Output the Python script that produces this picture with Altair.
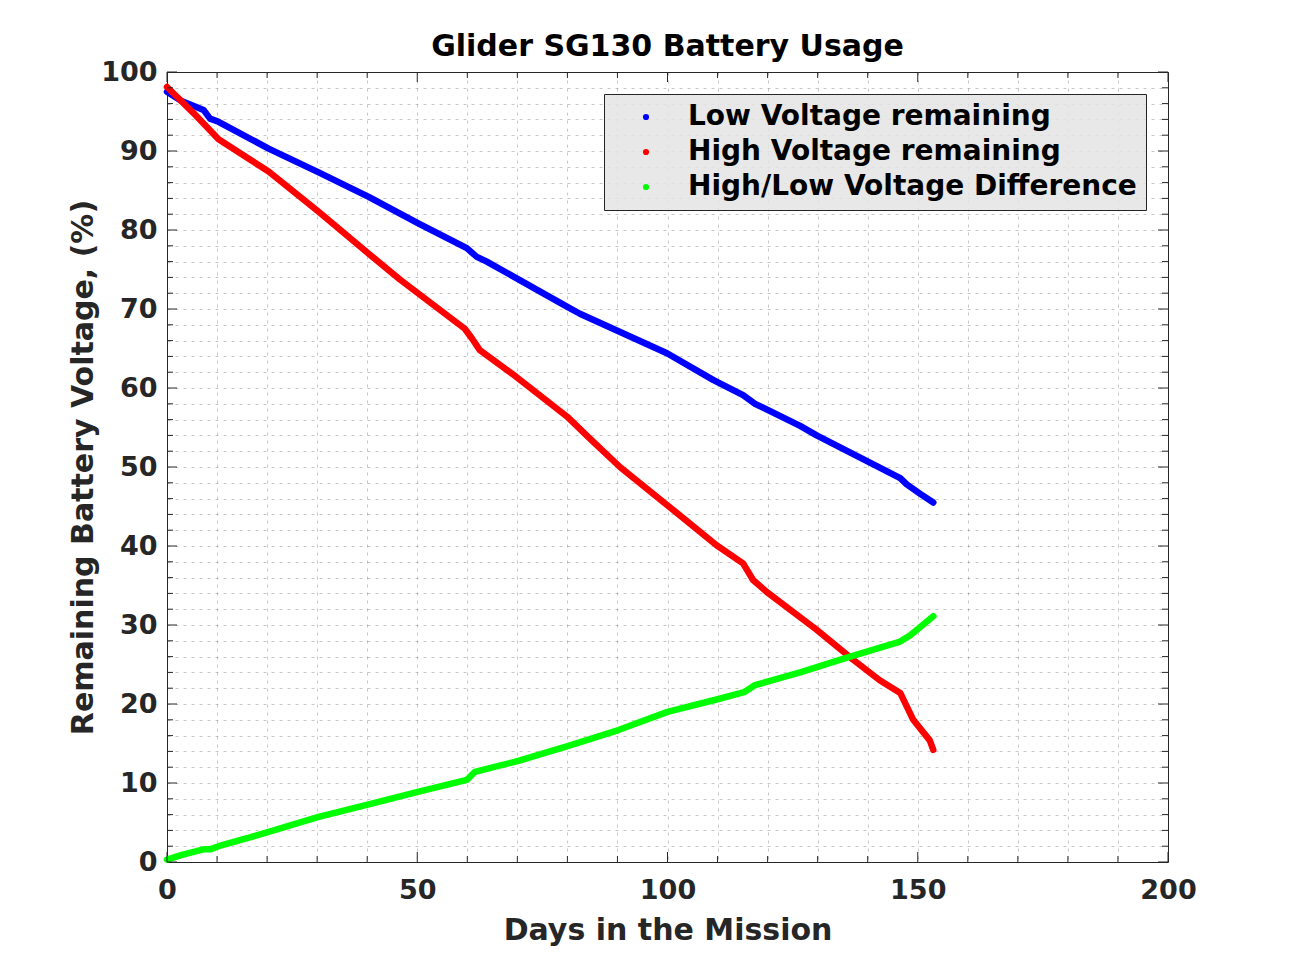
import altair as alt
import pandas as pd

# ---------------- data ----------------
series_names = ["Low Voltage remaining", "High Voltage remaining", "High/Low Voltage Difference"]
series_colors = ["#0000ff", "#ff0000", "#00ff00"]

low_days = [0, 3, 7.3, 8.6, 10.3, 20.3, 30.3, 40.3, 50.3, 59.9, 61.9, 63.9, 79.9, 82.5,
            99.9, 109.2, 115.1, 117.5, 126.5, 129.8, 146.5, 147.8, 150.5, 153.1]
low_vals = [97.5, 96.3, 95.2, 94.1, 93.7, 90.3, 87.3, 84.2, 80.8, 77.7, 76.6, 76.0, 70.3, 69.4,
            64.4, 61.0, 59.1, 58.0, 55.2, 54.0, 48.6, 47.8, 46.6, 45.5]

high_days = [0, 5.3, 10.3, 20.3, 30.3, 40.3, 46.6, 59.5, 60.9, 62.5, 69.8, 79.9, 84.5, 90.5,
             99.9, 109.8, 115.1, 117.1, 119.8, 129.8, 137.1, 142.4, 146.5, 147.8, 149.1, 152.4, 153.1]
high_vals = [98.1, 94.8, 91.5, 87.4, 82.3, 77.0, 73.7, 67.5, 66.3, 64.8, 61.4, 56.4, 53.6, 50.0,
             45.2, 40.1, 37.8, 35.7, 34.2, 29.4, 25.6, 23.0, 21.4, 19.7, 18.0, 15.4, 14.2]

diff_days = [0, 3, 7.3, 8.6, 10.3, 20.3, 30.3, 40.3, 50.3, 59.9, 61.5, 70.2, 80.2, 90.2,
             100, 110, 115.3, 117.5, 126.5, 136.5, 146.5, 148.5, 151, 153.1]
diff_vals = [0.3, 0.9, 1.6, 1.6, 2.0, 3.8, 5.7, 7.3, 8.9, 10.4, 11.4, 12.8, 14.7, 16.7,
             19.0, 20.6, 21.5, 22.4, 24.0, 26.0, 27.9, 28.7, 30.0, 31.1]

x_major = [0, 50, 100, 150, 200]
x_minor = [10, 20, 30, 40, 60, 70, 80, 90, 110, 120, 130, 140, 160, 170, 180, 190]
y_major = [0, 10, 20, 30, 40, 50, 60, 70, 80, 90, 100]
y_minor = [2, 4, 6, 8, 12, 14, 16, 18, 22, 24, 26, 28, 32, 34, 36, 38, 42, 44, 46, 48,
           52, 54, 56, 58, 62, 64, 66, 68, 72, 74, 76, 78, 82, 84, 86, 88, 92, 94, 96, 98]

# ---------------- build tables ----------------
rows = []
for name, days, vals in zip(series_names, [low_days, high_days, diff_days], [low_vals, high_vals, diff_vals]):
    for i, (d, v) in enumerate(zip(days, vals)):
        rows.append({"series": name, "day": d, "value": v, "order": i})
df = pd.DataFrame(rows)

xmaj = pd.DataFrame({"t": x_major})
xmin = pd.DataFrame({"t": x_minor})
ymaj = pd.DataFrame({"t": y_major})
ymin = pd.DataFrame({"t": y_minor})

W, H = 1001, 790
FONT = "DejaVu Sans"
AX = "#262626"

x_scale = alt.Scale(domain=[0, 200], nice=False, zero=False)
y_scale = alt.Scale(domain=[0, 100], nice=False, zero=False)

x_all = sorted(x_major + x_minor)
y_all = sorted(y_major + y_minor)

x_axis = alt.Axis(values=x_all, title="Days in the Mission",
                  labelExpr="datum.value % 50 === 0 ? datum.label : ''",
                  ticks=False, domain=False, grid=True, labelOverlap=False,
                  labelFlush=False, labelPadding=15, titlePadding=12)
y_axis = alt.Axis(values=y_all, title="Remaining Battery Voltage, (%)",
                  labelExpr="datum.value % 10 === 0 ? datum.label : ''",
                  ticks=False, domain=False, grid=True, labelOverlap=False,
                  labelFlush=False, labelPadding=10, titlePadding=2)

lines = alt.Chart(df).mark_line(strokeWidth=6.5, strokeCap="round", strokeJoin="round").encode(
    x=alt.X("day:Q", scale=x_scale, axis=x_axis),
    y=alt.Y("value:Q", scale=y_scale, axis=y_axis),
    color=alt.Color("series:N", scale=alt.Scale(domain=series_names, range=series_colors),
                    sort=series_names,
                    legend=alt.Legend(orient="none", legendX=437, legendY=22, title=None,
                                      labelFontSize=28, labelFont=FONT, labelFontWeight="bold",
                                      labelColor="black", labelLimit=900,
                                      symbolType="circle", symbolSize=10, symbolStrokeWidth=3,
                                      padding=9, symbolOffset=19, labelOffset=28, rowPadding=7,
                                      fillColor="rgba(228,228,228,0.85)", strokeColor=AX)),
    order="order:Q",
)

def hrule(data, y0, y1):
    return alt.Chart(data).mark_rule(color=AX, strokeWidth=1).encode(
        x=alt.X("t:Q", scale=x_scale, axis=x_axis), y=alt.value(y0), y2=alt.value(y1))

def vrule(data, x0, x1):
    return alt.Chart(data).mark_rule(color=AX, strokeWidth=1).encode(
        y=alt.Y("t:Q", scale=y_scale, axis=y_axis), x=alt.value(x0), x2=alt.value(x1))

ticks = [
    hrule(xmaj, H, H - 10), hrule(xmin, H, H - 6),
    hrule(xmaj, 0, 10), hrule(xmin, 0, 6),
    vrule(ymaj, 0, 10), vrule(ymin, 0, 6),
    vrule(ymaj, W, W - 10), vrule(ymin, W, W - 6),
]

chart = alt.layer(lines, *ticks).properties(
    width=W, height=H,
    autosize=alt.AutoSizeParams(type="none"),
    padding={"left": 159, "top": 64, "right": 110, "bottom": 88},
    title=alt.Title("Glider SG130 Battery Usage", fontSize=30, font=FONT, fontWeight="bold",
                    color="black", anchor="middle", frame="group", offset=10, dy=38,
                    baseline="alphabetic"),
).configure_view(
    stroke=AX, strokeWidth=1
).configure_axis(
    labelFont=FONT, labelFontSize=27, labelFontWeight="bold", labelColor=AX,
    titleFont=FONT, titleFontSize=30, titleFontWeight="bold", titleColor=AX,
    gridColor="#262626", gridOpacity=0.26, gridDash=[3, 5], gridWidth=1,
)

chart.save("out.html", embed_options={"renderer": "svg", "actions": False})
